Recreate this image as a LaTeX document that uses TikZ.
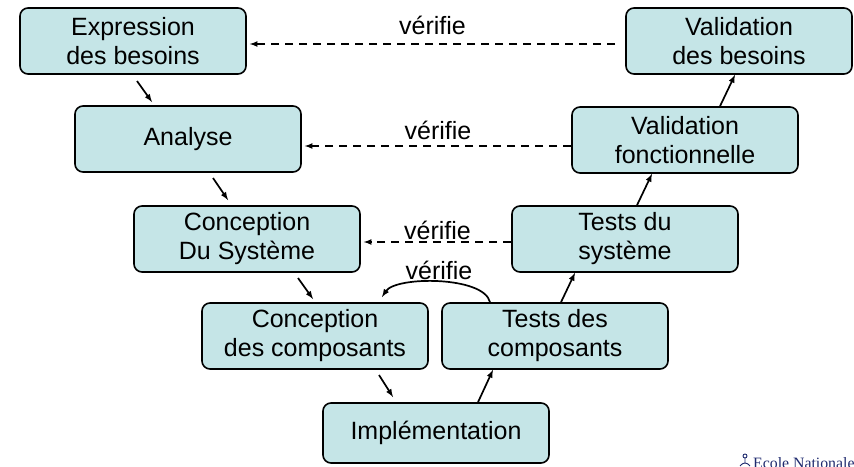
\documentclass[tikz,border=0pt]{standalone}
\usepackage{fontspec}
\setmainfont{Liberation Sans}
\newfontfamily\ecolefont{Liberation Serif}
\usetikzlibrary{positioning}

\definecolor{boxfill}{HTML}{C5E5E7}
\definecolor{ecoleblue}{HTML}{1F2A6E}

\begin{document}
\begin{tikzpicture}[x=1pt, y=-1pt, >=latex,
    etape/.style={draw, line width=1.6pt, rounded corners=8pt, fill=boxfill,
        minimum width=226pt, minimum height=66pt, align=center,
        font=\fontsize{25}{29}\selectfont},
    verif/.style={inner sep=0pt, font=\fontsize{25}{29}\selectfont},
    suite/.style={->, line width=1.7pt},
    retour/.style={->, line width=1.6pt, dash pattern=on 8pt off 6pt}]
    \useasboundingbox (0,0) rectangle (854,466);

    % descending branch
    \node [etape] (besoins) at (133,41) {Expression\\des besoins};
    \node [etape] (analyse) at (188,139) {Analyse};
    \node [etape] (csys) at (247,239) {Conception\\Du Système};
    \node [etape] (ccomp) at (315,336) {Conception\\des composants};
    \node [etape, minimum height=60pt] (impl) at (436,433) {Implémentation};

    % ascending branch
    \node [etape] (tcomp) at (555,336) {Tests des\\composants};
    \node [etape] (tsys) at (625,239) {Tests du\\système};
    \node [etape] (vfonc) at (685,140) {Validation\\fonctionnelle};
    \node [etape] (vbesoins) at (739,41) {Validation\\des besoins};

    \coordinate (d1a) at (137,81);  \coordinate (d1b) at (152,102);
    \coordinate (d2a) at (213,178); \coordinate (d2b) at (228,200);
    \coordinate (d3a) at (298,278); \coordinate (d3b) at (313,299);
    \coordinate (d4a) at (379,375); \coordinate (d4b) at (393,397);

    \draw [suite] (d1a) -- (d1b);
    \draw [suite] (d2a) -- (d2b);
    \draw [suite] (d3a) -- (d3b);
    \draw [suite] (d4a) -- (d4b);

    \draw [suite] (impl.north -| 478,0) -- (tcomp.south -| 493,0);
    \draw [suite] (tcomp.north -| 561,0) -- (tsys.south -| 575,0);
    \draw [suite] (tsys.north -| 637,0) -- (vfonc.south -| 652,0);
    \draw [suite] (vfonc.north -| 720,0) -- (vbesoins.south -| 735,0);

    % checks
    \draw [retour] ([xshift=-10pt]vbesoins.west |- 0,44) -- ([xshift=3pt]besoins.east |- 0,44)
        node [verif, midway, above=8pt] (v1) {vérifie};
    \draw [retour] (vfonc.west |- 0,146) -- ([xshift=3pt]analyse.east |- 0,146)
        node [verif, midway, above=5pt] (v2) {vérifie};
    \draw [retour] (tsys.west |- 0,242) -- ([xshift=3pt]csys.east |- 0,242)
        node [verif, midway, above=1pt] (v3) {vérifie};
    \draw [suite] (tcomp.north -| 490,0) .. controls (484,276) and (396,276) .. (382,297)
        node [verif, midway, above=1pt] (v4) {vérifie};

    % school logo, cut by the page edge
    \draw [ecoleblue, line width=0.9pt] (745,456) circle (2pt);
    \draw [ecoleblue, line width=0.9pt] (745,458) -- (745,463) (740,466) .. controls (743,462) and (747,462) .. (750,466);
    \node [anchor=base west, inner sep=0pt, text=ecoleblue,
        font=\ecolefont\fontsize{15.8}{18}\selectfont] (ecole) at (753,468) {Ecole Nationale};
\end{tikzpicture}
\end{document}
